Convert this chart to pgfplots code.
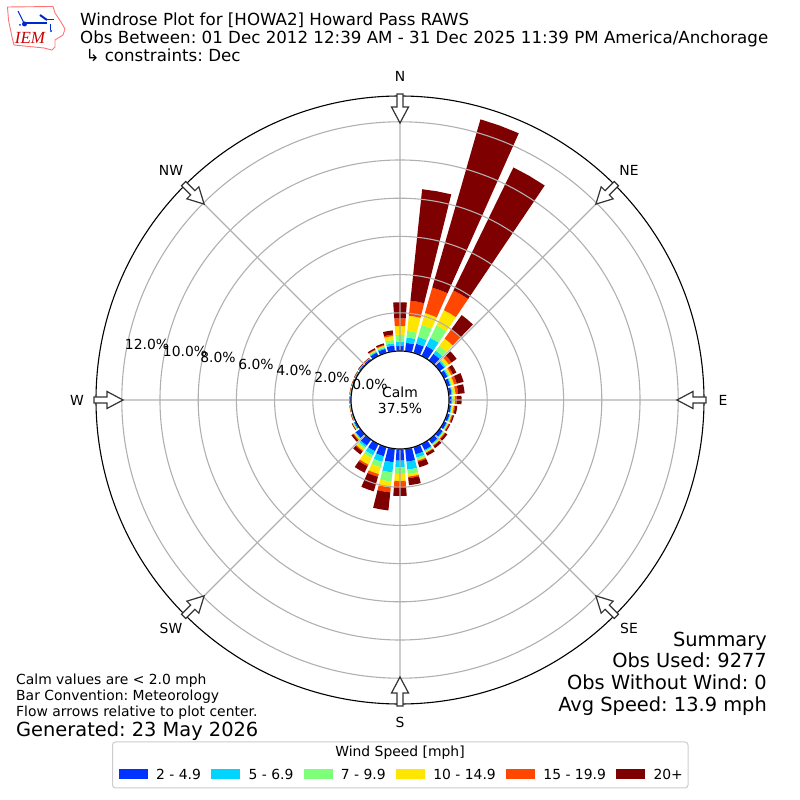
\documentclass[border=0pt]{standalone}
\usepackage{pgfplots}
\usepgfplotslibrary{polar}
\pgfplotsset{compat=1.18}
\usepackage{fontspec}
\setmainfont{DejaVu Sans}
\newfontfamily\logofont{Liberation Serif}
\frenchspacing
\definecolor{cA}{HTML}{0033FF}
\definecolor{cB}{HTML}{00D4FF}
\definecolor{cC}{HTML}{7DFF7A}
\definecolor{cD}{HTML}{FFE600}
\definecolor{cE}{HTML}{FF4700}
\definecolor{cF}{HTML}{7F0000}
\definecolor{gridc}{HTML}{B0B0B0}
\newcommand\fs[1]{\fontsize{#1}{#1}\selectfont}
% one segment of a bar: compass direction, lower and upper cumulative percent, colour
\newcommand\seg[4]{%
  \pgfmathsetmacro\aL{450-#1-4}\pgfmathsetmacro\aM{450-#1}\pgfmathsetmacro\aR{450-#1+4}%
  \edef\temp{\noexpand\addplot[fill=#4,draw=none,forget plot] coordinates
    {(\aL,#2)(\aM,#2)(\aR,#2)(\aR,#3)(\aM,#3)(\aL,#3)} -- cycle;}\temp}
% compass direction, then cumulative percent at the top of each speed class
\newcommand\rosebar[7]{\seg{#1}{0}{#2}{cA}\seg{#1}{#2}{#3}{cB}\seg{#1}{#3}{#4}{cC}%
  \seg{#1}{#4}{#5}{cD}\seg{#1}{#5}{#6}{cE}\seg{#1}{#6}{#7}{cF}}
\newcommand\flowarrow[1]{%
  \begin{scope}[shift={(400,400)},rotate=-#1]
  \draw[draw=black!80,line width=1.2pt,fill=white,line join=miter]
    (-3,306)--(-3,293)--(-8.5,293)--(0,277)--(8.5,293)--(3,293)--(3,306)--cycle;
  \end{scope}}
\begin{document}
\begin{tikzpicture}[x=1pt,y=1pt]
\path[use as bounding box] (0,0) rectangle (800,800);
% legend frame
\draw[draw=black!20,fill=white,line width=1pt,rounded corners=3pt] (112.5,12) rectangle (688,58);
\begin{polaraxis}[
  at={(400pt,400pt)},anchor=center,
  width=608pt,height=608pt,scale only axis,
  xmin=0,xmax=360,ymin=-2.565,ymax=13.35,
  y coord trafo/.code={\pgfmathparse{#1+2.565}},
  xtick={0,45,...,315},ytick={0,2,4,6,8,10,12},
  xticklabels={},yticklabels={},
  major tick length=0pt,
  grid=both,
  major grid style={draw=gridc,line width=1.1pt},
  axis line style={draw=black,line width=1.1pt},
  y axis line style={draw=none},
  axis on top,clip=false,
  legend columns=6,
  legend style={draw=none,fill=none,at={(0.503,-0.1165)},anchor=center,
    font=\fs{13.9},/tikz/every odd column/.style={column sep=7pt},
    /tikz/every even column/.style={column sep=8.2pt}},
  legend image code/.code={\fill[#1] (0pt,-3pt) rectangle (28pt,6pt);},
]
\rosebar{0}{.26}{.49}{.84}{1.31}{1.71}{2.55}
\rosebar{10}{.445}{.73}{1.07}{1.87}{2.66}{8.53}
\rosebar{20}{.50}{.87}{1.52}{2.17}{3.56}{12.72}
\rosebar{30}{.58}{1.05}{1.78}{2.67}{3.82}{10.98}
\rosebar{40}{.42}{.63}{.94}{1.41}{1.99}{2.93}
\rosebar{50}{.30}{.38}{.46}{.60}{.78}{1.10}
\rosebar{60}{.20}{.26}{.32}{.42}{.52}{.72}
\rosebar{70}{.17}{.22}{.27}{.38}{.53}{.90}
\rosebar{80}{.15}{.20}{.25}{.36}{.50}{.84}
\rosebar{90}{.14}{.18}{.22}{.32}{.40}{.66}
\rosebar{100}{.12}{.16}{.20}{.27}{.33}{.45}
\rosebar{110}{.14}{.18}{.21}{.26}{.31}{.38}
\rosebar{120}{.15}{.19}{.22}{.26}{.30}{.36}
\rosebar{130}{.20}{.24}{.28}{.33}{.38}{.50}
\rosebar{140}{.25}{.30}{.34}{.38}{.42}{.55}
\rosebar{150}{.35}{.41}{.46}{.50}{.54}{.68}
\rosebar{160}{.40}{.58}{.68}{.74}{.81}{1.10}
\rosebar{170}{.68}{1.10}{1.33}{1.47}{1.55}{1.92}
\rosebar{180}{.61}{.96}{1.31}{1.68}{2.00}{2.46}
\rosebar{190}{.71}{1.25}{1.73}{2.04}{2.30}{3.25}
\rosebar{200}{.50}{.81}{1.10}{1.47}{1.62}{2.41}
\rosebar{210}{.42}{.65}{.82}{1.20}{1.30}{1.67}
\rosebar{220}{.39}{.50}{.60}{.72}{.78}{.96}
\rosebar{230}{.30}{.34}{.38}{.43}{.48}{.58}
\rosebar{240}{.10}{.14}{.17}{.20}{.22}{.25}
\rosebar{250}{.06}{.07}{.08}{.09}{.10}{.12}
\rosebar{260}{.05}{.06}{.07}{.08}{.09}{.10}
\rosebar{270}{.05}{.06}{.07}{.08}{.09}{.10}
\rosebar{280}{.05}{.06}{.07}{.08}{.09}{.10}
\rosebar{290}{.05}{.06}{.07}{.08}{.09}{.10}
\rosebar{300}{.06}{.07}{.08}{.09}{.10}{.12}
\rosebar{310}{.08}{.10}{.11}{.12}{.13}{.16}
\rosebar{320}{.10}{.12}{.13}{.14}{.15}{.17}
\rosebar{330}{.20}{.25}{.30}{.35}{.38}{.45}
\rosebar{340}{.22}{.28}{.34}{.40}{.44}{.52}
\rosebar{350}{.30}{.42}{.60}{.80}{.88}{1.10}
\addlegendimage{cA}\addlegendentry{2 - 4.9}
\addlegendimage{cB}\addlegendentry{5 - 6.9}
\addlegendimage{cC}\addlegendentry{7 - 9.9}
\addlegendimage{cD}\addlegendentry{10 - 14.9}
\addlegendimage{cE}\addlegendentry{15 - 19.9}
\addlegendimage{cF}\addlegendentry{20+}
\end{polaraxis}
% centre
\draw[fill=white,draw=black,line width=1.1pt] (400,400) circle (49);
\foreach \d in {0,45,...,315}{\flowarrow{\d}}
% radial labels
\foreach \t/\x/\y in {0.0/370/416,2.0/332/423,4.0/294/430,6.0/256/436,8.0/218/443,10.0/185/449,12.0/147/456}
  {\node[inner sep=0pt,font=\fs{13.9}] at (\x,\y) {\t\%};}
\node[align=center,font=\fs{13.9}] at (400,399.5) {Calm\\[2pt]37.5\%};
% compass labels
\foreach \t/\x/\y in {N/400/724,NE/629/630,E/723/400,SE/629/172,S/400/78,SW/171/172,W/77/400,NW/171/630}
  {\node[inner sep=0pt,font=\fs{13.9}] at (\x,\y) {\t};}
% titles
\node[anchor=base west,inner sep=0pt,font=\fs{16.67}] at (80,774.5) {Windrose Plot for [HOWA2] Howard Pass RAWS};
\node[anchor=base west,inner sep=0pt,font=\fs{16.67}] at (80,756.5) {Obs Between: 01 Dec 2012 12:39 AM - 31 Dec 2025 11:39 PM America/Anchorage};
\node[anchor=base west,inner sep=0pt,font=\fs{16.67}] at (80,738.5) {\hspace*{5.3pt}↳ constraints: Dec};
% summary
\node[anchor=base east,inner sep=0pt,font=\fs{19.4}] at (767,153) {Summary};
\node[anchor=base east,inner sep=0pt,font=\fs{19.4}] at (767,132) {Obs Used: 9277};
\node[anchor=base east,inner sep=0pt,font=\fs{19.4}] at (767,110) {Obs Without Wind: 0};
\node[anchor=base east,inner sep=0pt,font=\fs{19.4}] at (767,88) {Avg Speed: 13.9 mph};
% notes
\node[anchor=base west,inner sep=0pt,font=\fs{13.9}] at (16,115) {Calm values are < 2.0 mph};
\node[anchor=base west,inner sep=0pt,font=\fs{13.9}] at (16,99) {Bar Convention: Meteorology};
\node[anchor=base west,inner sep=0pt,font=\fs{13.9}] at (16,83) {Flow arrows relative to plot center.};
\node[anchor=base west,inner sep=0pt,font=\fs{19.4}] at (16,63) {Generated: 23 May 2026};
\node[inner sep=0pt,font=\fs{13.9}] at (400,47) {Wind Speed [mph]};
% logo
\draw[draw=red!55!white,line width=.9pt,line join=round]
  (7.5,793)--(53,793.5)--(55,787)--(61,778)--(65,771)--(63,765)--(55,760)--(55,753)--(52,750)--(44,752)--(14,755)--(12,763)--(8.5,780)--cycle;
\draw[draw=cA!80!black,line width=2pt] (25,776.5)--(47,776.5);
\draw[draw=cA!80!black,line width=1pt] (18,789)--(24,777);
\draw[draw=cA!80!black,line width=2pt] (40,785)--(47,780);
\draw[draw=cA!80!black,line width=1pt] (47,780)--(54,780) (50,776)--(50,770);
\fill[cA!80!black] (24.5,776) circle (2.5) (51,769) circle (1.2) (20,775) circle (1);
\node[inner sep=0pt,text=red!80!black,font=\logofont\itshape\fs{17}] at (30,762) {IEM};
\end{tikzpicture}
\end{document}
